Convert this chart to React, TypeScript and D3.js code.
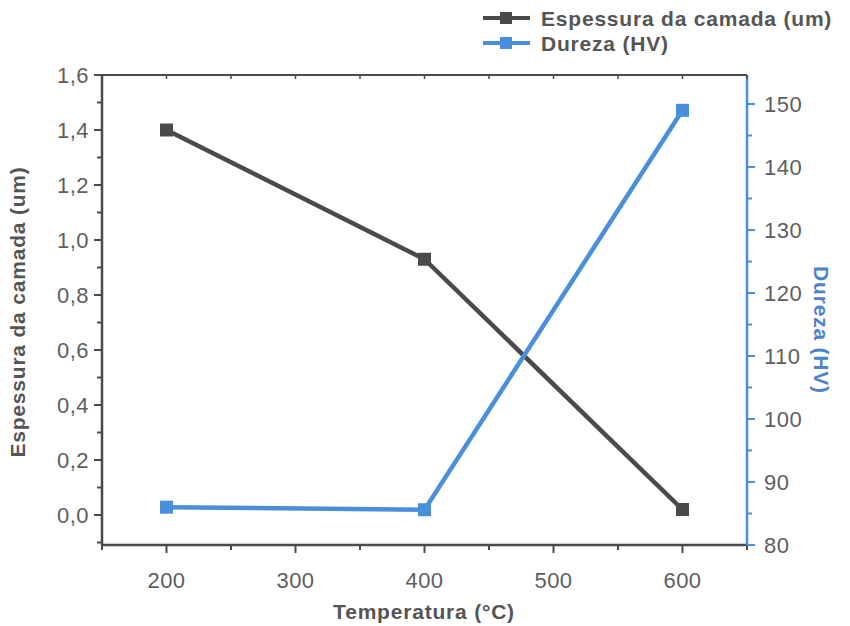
import React from "react";
import * as d3 from "d3";

const temperatures = [200, 400, 600];
const espessura = [1.4, 0.93, 0.02];
const dureza = [86.0, 85.6, 149.0];
const xTicks = [200, 300, 400, 500, 600];
const yLeftTicks = [0, 0.2, 0.4, 0.6, 0.8, 1.0, 1.2, 1.4, 1.6];
const yRightTicks = [80, 90, 100, 110, 120, 130, 140, 150];

const W = 850, H = 626;
const L = 102, R = 747, T = 75, B = 545;
const gray = "#4a4a4a";
const text = "#555";
const tickText = "#5e5e5e";
const blue = "#4a8fdc";
const blueText = "#4f82c8";
const font = "Liberation Sans, Arial, sans-serif";

export default function App() {
  const x = d3.scaleLinear().domain([150, 650]).range([L, R]);
  const yL = d3.scaleLinear().domain([0, 1.6]).range([515, T]);
  const yR = d3.scaleLinear().domain([80, 150]).range([B, 104]);
  const lineL = d3.line<number>().x((_, i) => x(temperatures[i])).y((d) => yL(d));
  const lineR = d3.line<number>().x((_, i) => x(temperatures[i])).y((d) => yR(d));
  const fmt = (v: number) => v.toFixed(1).replace(".", ",");
  const xMinor = d3.range(150, 651, 50);
  const yLMinor = d3.range(-0.1, 1.61, 0.1);
  const yRMinor = d3.range(80, yR.invert(T), 5);
  const ms = 13;
  const titleStyle = { letterSpacing: "0.8px" };
  const tickStyle = { letterSpacing: "0.5px" };
  return (
    <svg width={W} height={H} style={{ display: "block", position: "absolute", left: 0, top: 0, background: "#fff" }} fontFamily={font}>
      {/* frame */}
      <line x1={L} x2={R} y1={T} y2={T} stroke={gray} strokeWidth={2} />
      <line x1={L} x2={R} y1={B} y2={B} stroke={gray} strokeWidth={2.5} />
      <line x1={L} x2={L} y1={T} y2={B} stroke={gray} strokeWidth={2.5} />
      <line x1={R} x2={R} y1={T} y2={B} stroke={blue} strokeWidth={2.5} />
      {/* x ticks */}
      {xMinor.map((v) => {
        const major = xTicks.includes(Math.round(v));
        return (
          <g key={"x" + v}>
            <line x1={x(v)} x2={x(v)} y1={B} y2={B + (major ? 8 : 5)} stroke={gray} strokeWidth={2} />
            <line x1={x(v)} x2={x(v)} y1={T} y2={T + 4} stroke={gray} strokeWidth={1.5} />
          </g>
        );
      })}
      {xTicks.map((v) => (
        <text key={"xl" + v} x={x(v)} y={588} textAnchor="middle" fontSize={22} fill={tickText} style={tickStyle}>{v}</text>
      ))}
      {/* left ticks */}
      {yLMinor.map((v, i) => {
        const major = Math.abs(Math.round(v * 5) - v * 5) < 1e-6;
        return <line key={"yl" + i} x1={L - (major ? 8 : 5)} x2={L} y1={yL(v)} y2={yL(v)} stroke={gray} strokeWidth={2} />;
      })}
      {yLeftTicks.map((v) => (
        <text key={"yll" + v} x={89} y={yL(v) + 8} textAnchor="end" fontSize={22} fill={tickText} style={tickStyle}>{fmt(v)}</text>
      ))}
      {/* right ticks */}
      {yRMinor.map((v) => {
        const major = v % 10 === 0;
        return <line key={"yr" + v} x1={R} x2={R + (major ? 8 : 5)} y1={yR(v)} y2={yR(v)} stroke={blue} strokeWidth={2} />;
      })}
      {yRightTicks.map((v) => (
        <text key={"yrl" + v} x={764} y={yR(v) + 8} textAnchor="start" fontSize={22} fill={tickText} style={tickStyle}>{v}</text>
      ))}
      {/* axis titles */}
      <text x={424} y={619} textAnchor="middle" fontSize={21} fontWeight="bold" fill={text} style={titleStyle}>Temperatura (°C)</text>
      <text transform={`translate(25,312) rotate(-90)`} textAnchor="middle" fontSize={21} fontWeight="bold" fill={text} style={titleStyle}>Espessura da camada (um)</text>
      <text transform={`translate(814,330) rotate(90)`} textAnchor="middle" fontSize={21} fontWeight="bold" fill={blueText} style={titleStyle}>Dureza (HV)</text>
      {/* series */}
      <path d={lineL(espessura) || ""} fill="none" stroke={gray} strokeWidth={4.5} />
      <path d={lineR(dureza) || ""} fill="none" stroke={blue} strokeWidth={4.5} />
      {espessura.map((v, i) => (
        <rect key={"pl" + i} x={x(temperatures[i]) - ms / 2} y={yL(v) - ms / 2} width={ms} height={ms} fill={gray} />
      ))}
      {dureza.map((v, i) => (
        <rect key={"pr" + i} x={x(temperatures[i]) - ms / 2} y={yR(v) - ms / 2} width={ms} height={ms} fill={blue} />
      ))}
      {/* legend */}
      <line x1={483} x2={530} y1={18} y2={18} stroke={gray} strokeWidth={4} />
      <rect x={500} y={12} width={12} height={12} fill={gray} />
      <text x={541} y={26} fontSize={21} fontWeight="bold" fill={text} style={titleStyle}>Espessura da camada (um)</text>
      <line x1={483} x2={530} y1={43} y2={43} stroke={blue} strokeWidth={4} />
      <rect x={500} y={37} width={12} height={12} fill={blue} />
      <text x={541} y={51} fontSize={21} fontWeight="bold" fill={text} style={titleStyle}>Dureza (HV)</text>
    </svg>
  );
}
